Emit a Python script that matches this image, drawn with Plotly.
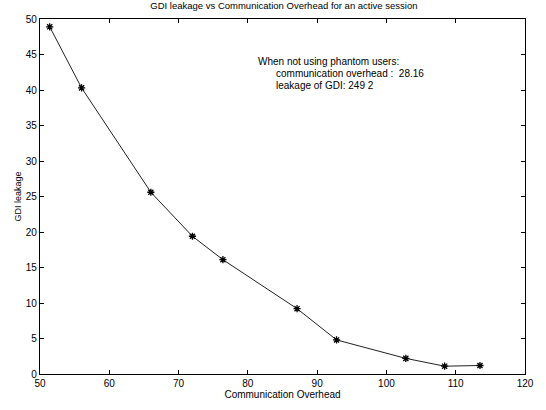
import plotly.graph_objects as go

comm_overhead = [51.4, 56.0, 66.0, 72.0, 76.4, 87.1, 92.8, 102.8, 108.4, 113.5]
gdi_leakage = [48.9, 40.3, 25.6, 19.4, 16.1, 9.2, 4.8, 2.2, 1.1, 1.2]
x_ticks = [50, 60, 70, 80, 90, 100, 110, 120]
y_ticks = [0, 5, 10, 15, 20, 25, 30, 35, 40, 45, 50]
title_text = "GDI leakage vs Communication Overhead for an active session"
note_lines = ["When not using phantom users:",
              "communication overhead :  28.16",
              "leakage of GDI: 249 2"]

font = "Liberation Sans, Arial, sans-serif"

fig = go.Figure()
fig.add_trace(go.Scatter(
    x=comm_overhead, y=gdi_leakage, mode="lines+markers",
    line=dict(color="#222222", width=1),
    marker=dict(symbol="asterisk-open", size=6, color="#000000",
                line=dict(color="#000000", width=1.3)),
    showlegend=False,
))

axis_common = dict(showgrid=False, zeroline=False, showline=True, mirror="ticks",
                   linecolor="#000000", linewidth=1.2, ticks="inside", ticklen=4,
                   tickcolor="#000000", tickfont=dict(family=font, size=10, color="#000000"))

fig.update_layout(
    width=546, height=410,
    margin=dict(l=40, r=19, t=19, b=34),
    paper_bgcolor="white", plot_bgcolor="white",
    title=dict(text=title_text, x=0.52, xanchor="center", y=0.995, yanchor="top",
               font=dict(family=font, size=9.5, color="#000000")),
    xaxis=dict(range=[50, 120], tickvals=x_ticks, **axis_common,
               title=dict(text="Communication Overhead", standoff=2,
                          font=dict(family=font, size=10, color="#000000"))),
    yaxis=dict(range=[0, 50], tickvals=y_ticks, **axis_common,
               title=dict(text="GDI leakage", standoff=2,
                          font=dict(family=font, size=9, color="#000000"))),
)

note_x = [81.2, 83.8, 83.8]
note_y = [44.0, 42.3, 40.6]
for txt, nx, ny in zip(note_lines, note_x, note_y):
    fig.add_annotation(x=nx, y=ny, xref="x", yref="y", text=txt, showarrow=False,
                       xanchor="left", yanchor="middle",
                       font=dict(family=font, size=10, color="#000000"))

fig.write_html("out.html")
